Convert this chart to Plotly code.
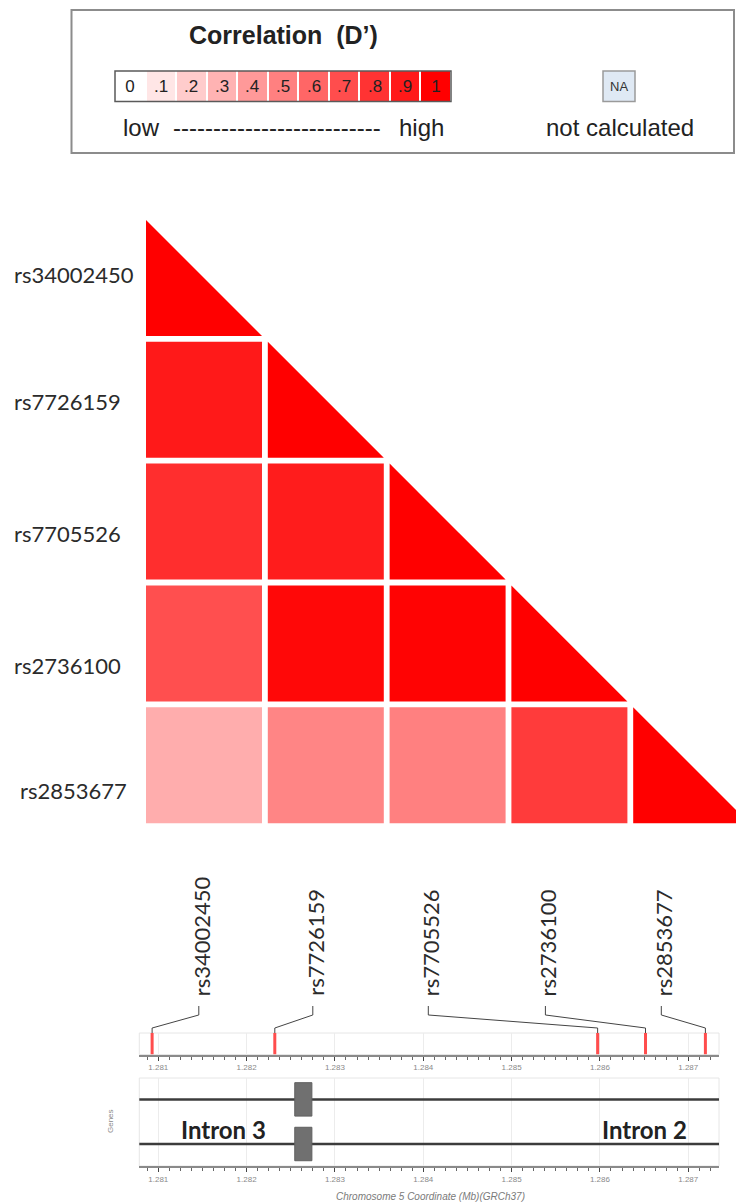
import plotly.graph_objects as go
from plotly.colors import sample_colorscale

W, H = 736, 1203

# ---- data -------------------------------------------------------------
snps = ["rs34002450", "rs7726159", "rs7705526", "rs2736100", "rs2853677"]
snp_pos_bp = [1280930, 1282319, 1285974, 1286516, 1287194]

# pairwise D' (lower triangle, row i / column j <= i; diagonal = self)
dprime = [
    [1.00],
    [0.90, 1.00],
    [0.82, 0.89, 1.00],
    [0.69, 0.97, 0.99, 1.00],
    [0.32, 0.48, 0.50, 0.77, 1.00],
]

legend_values = [0.0, 0.1, 0.2, 0.3, 0.4, 0.5, 0.6, 0.7, 0.8, 0.9, 1.0]
legend_labels = ["0", ".1", ".2", ".3", ".4", ".5", ".6", ".7", ".8", ".9", "1"]

transcript_bp = [1253262, 1295184]          # TERT transcript extent
exon_bp = [1282545, 1282739]                # exon shown in the window
transcript_rows = [0.757, 0.25]
intron_labels = ["Intron 3", "Intron 2"]

mb_ticks = [1.281, 1.282, 1.283, 1.284, 1.285, 1.286, 1.287]
mb_tick_text = ["1.281", "1.282", "1.283", "1.284", "1.285", "1.286", "1.287"]

# ---- layout constants (pixels) ------------------------------------------
CORR_SCALE = [[0.0, "rgb(255,255,255)"], [1.0, "rgb(255,0,0)"]]
PITCH = 121.8
CELL = 116.0 / PITCH
GRID_LEFT, GRID_TOP = 146.0, 220.0
TRACK_L, TRACK_R = 139.3, 719.0
MB_RANGE = [1.280785, 1.287348]
ROW_LABEL_LEFT = [11.7, 11.7, 11.7, 11.7, 18.3]
ROW_LABEL_Y = [274, 401.7, 533.3, 665, 790]
SLOT_X = [198.8, 312.8, 428.3, 545.4, 661.3]
TEXT = "#222222"


def fx(px):
    return px / W


def fy(py):
    return 1 - py / H


def px_to_mb(px):
    return MB_RANGE[0] + (px - TRACK_L) / (TRACK_R - TRACK_L) * (MB_RANGE[1] - MB_RANGE[0])


def label(text, x, y, size, color=TEXT, family="Liberation Sans",
          xanchor="center", yanchor="middle", angle=0):
    return dict(text=text, xref="paper", yref="paper", x=fx(x), y=fy(y),
                xanchor=xanchor, yanchor=yanchor, textangle=angle,
                showarrow=False, font=dict(family=family, size=size, color=color))


fig = go.Figure()

# ---- LD matrix: squares below the diagonal, triangles on it ------------
for i, row in enumerate(dprime):
    for j, d in enumerate(row):
        color = sample_colorscale(CORR_SCALE, [d])[0]
        if j < i:
            xs = [j, j + CELL, j + CELL, j, j]
            ys = [i, i, i + CELL, i + CELL, i]
        else:
            xs = [j, j, j + CELL, j]
            ys = [i, i + CELL, i + CELL, i]
        fig.add_trace(go.Scatter(
            x=xs, y=ys, fill="toself", fillcolor=color, mode="lines",
            line=dict(width=0, color=color), hoverinfo="skip",
            showlegend=False, xaxis="x", yaxis="y"))

# ---- SNP position markers ----------------------------------------------
snp_mb = [p / 1e6 for p in snp_pos_bp]
mx, my = [], []
for m in snp_mb:
    mx += [m, m, None]
    my += [0, 1, None]
fig.add_trace(go.Scatter(x=mx, y=my, mode="lines",
                         line=dict(color="#ff4d4d", width=3),
                         hoverinfo="skip", showlegend=False,
                         xaxis="x2", yaxis="y2"))

# ---- leader lines from labels to marker positions ------------------------
cx, cy = [], []
for slot, m in zip(SLOT_X, snp_mb):
    s = px_to_mb(slot)
    cx += [s, s, m, m, None]
    cy += [1, 0.667, 0.185, 0, None]
fig.add_trace(go.Scatter(x=cx, y=cy, mode="lines",
                         line=dict(color="#444444", width=1),
                         hoverinfo="skip", showlegend=False,
                         xaxis="x4", yaxis="y4"))

# ---- gene track ---------------------------------------------------------
t0, t1 = transcript_bp[0] / 1e6, transcript_bp[1] / 1e6
e0, e1 = exon_bp[0] / 1e6, exon_bp[1] / 1e6
for yrow in transcript_rows:
    fig.add_trace(go.Scatter(x=[t0, t1], y=[yrow, yrow], mode="lines",
                             line=dict(color="#3c3c3c", width=2.5),
                             hoverinfo="skip", showlegend=False,
                             xaxis="x3", yaxis="y3"))
    h = 0.19
    fig.add_trace(go.Scatter(x=[e0, e1, e1, e0, e0],
                             y=[yrow - h, yrow - h, yrow + h, yrow + h, yrow - h],
                             fill="toself", fillcolor="#707070", mode="lines",
                             line=dict(color="#606060", width=1),
                             hoverinfo="skip", showlegend=False,
                             xaxis="x3", yaxis="y3"))

# ---- colour key -----------------------------------------------------------
fig.add_trace(go.Heatmap(
    z=[legend_values], x=list(range(len(legend_values))), y=[0],
    colorscale=CORR_SCALE, zmin=0, zmax=1, showscale=False,
    xgap=2, text=[legend_labels], texttemplate="%{text}",
    textfont=dict(size=17, color=TEXT, family="Liberation Sans"),
    hoverinfo="skip", xaxis="x5", yaxis="y5"))

annotations = []

# row labels
for name, lx, ly in zip(snps, ROW_LABEL_LEFT, ROW_LABEL_Y):
    annotations.append(label(name, lx, ly, 22, "#2b2b2b", "Lato", xanchor="left"))

# rotated SNP labels above the track
for name, sx in zip(snps, SLOT_X):
    annotations.append(label(name, sx + 2.5, 998, 22, "#2b2b2b", "Lato",
                             yanchor="bottom", angle=-90))

# intron labels
for txt, cxp in zip(intron_labels, [223, 644]):
    annotations.append(label(f"<b>{txt}</b>", cxp, 1129, 24, TEXT, "Lato"))

annotations += [
    label("Genes", 110, 1121, 8, "#8a8a8a", angle=-90),
    label("<i>Chromosome 5 Coordinate (Mb)(GRCh37)</i>", 430, 1196, 10, "#7a7a7a"),
    # key texts
    label("<b>Correlation\u00a0 (D\u2019)</b>", 283, 35, 25),
    label("low", 121, 128, 24, xanchor="left"),
    label("-" * 26, 277, 128, 24),
    label("high", 446, 128, 24, xanchor="right"),
    label("NA", 619, 86.5, 13, "#333333"),
    label("not calculated", 620, 127, 24),
]

shapes = [
    # key frame
    dict(type="rect", xref="paper", yref="paper", x0=fx(71.5), x1=fx(734),
         y0=fy(153), y1=fy(10), line=dict(color="#8c8c8c", width=2),
         fillcolor="rgba(0,0,0,0)", layer="below"),
    # colour key outline
    dict(type="rect", xref="x5 domain", yref="y5 domain", x0=0, x1=1, y0=0, y1=1,
         line=dict(color="#5a5a5a", width=1.5)),
    # NA swatch
    dict(type="rect", xref="paper", yref="paper", x0=fx(603), x1=fx(635),
         y0=fy(101.5), y1=fy(71), line=dict(color="#9a9a9a", width=1.5),
         fillcolor="#dfe9f4", layer="below"),
    # faint panel frames
    dict(type="rect", xref="x2 domain", yref="y2 domain", x0=0, x1=1, y0=0, y1=1,
         line=dict(color="#e6e6e6", width=1), layer="below"),
    dict(type="rect", xref="x3 domain", yref="y3 domain", x0=0, x1=1, y0=0, y1=1,
         line=dict(color="#e6e6e6", width=1), layer="below"),
]

track_axis = dict(
    domain=[fx(TRACK_L), fx(TRACK_R)], range=MB_RANGE, showline=True,
    linecolor="#8a8a8a", linewidth=2, ticks="outside", ticklen=4, tickwidth=1.2,
    tickcolor="#444444", tickvals=mb_ticks, ticktext=mb_tick_text,
    tickfont=dict(size=8, color="#8a8a8a", family="Liberation Sans"),
    showgrid=True, gridcolor="#ececec", gridwidth=1, zeroline=False,
    fixedrange=True,
    minor=dict(dtick=0.000125, tick0=1.281, ticks="outside", ticklen=3,
               tickcolor="#666666", showgrid=False),
)

fig.update_layout(
    width=W, height=H, margin=dict(l=0, r=0, t=0, b=0),
    paper_bgcolor="white", plot_bgcolor="white",
    font=dict(family="Liberation Sans"),
    showlegend=False,
    xaxis=dict(domain=[fx(GRID_LEFT), 1.0], range=[0, (W - GRID_LEFT) / PITCH],
               visible=False, fixedrange=True, anchor="y"),
    yaxis=dict(domain=[fy(GRID_TOP + 5 * PITCH), fy(GRID_TOP)], range=[5, 0],
               visible=False, fixedrange=True, anchor="x"),
    xaxis2=dict(anchor="y2", **track_axis),
    yaxis2=dict(domain=[fy(1054.5), fy(1033)], range=[0, 1], visible=False,
                fixedrange=True, anchor="x2"),
    xaxis3=dict(anchor="y3", **track_axis),
    yaxis3=dict(domain=[fy(1166), fy(1078)], range=[0, 1], visible=False,
                fixedrange=True, anchor="x3"),
    xaxis4=dict(domain=[fx(TRACK_L), fx(TRACK_R)], range=MB_RANGE, visible=False,
                fixedrange=True, anchor="y4"),
    yaxis4=dict(domain=[fy(1033), fy(1006)], range=[0, 1], visible=False,
                fixedrange=True, anchor="x4"),
    xaxis5=dict(domain=[fx(115), fx(451)], range=[-0.5, 10.5], visible=False,
                fixedrange=True, anchor="y5"),
    yaxis5=dict(domain=[fy(101.5), fy(71)], range=[-0.5, 0.5], visible=False,
                fixedrange=True, anchor="x5"),
    annotations=annotations,
    shapes=shapes,
)

fig.write_html("out.html")
